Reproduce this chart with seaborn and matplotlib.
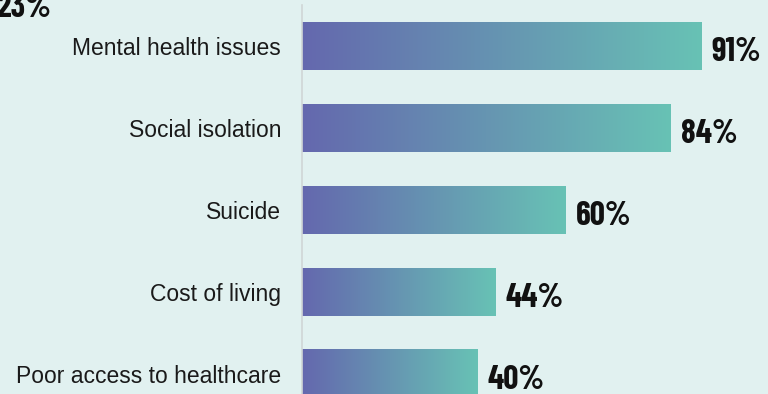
import numpy as np
import pandas as pd

import matplotlib
matplotlib.use("Agg")
import matplotlib.pyplot as plt
from matplotlib.colors import LinearSegmentedColormap
import seaborn as sns


categories = [
    "Mental health issues",
    "Social isolation",
    "Suicide",
    "Cost of living",
    "Poor access to healthcare",
]
values = [91, 84, 60, 44, 40]
value_labels = ["91%", "84%", "60%", "44%", "40%"]
stray_label = "23%"

bg = "#e1f1f0"
purple = "#6468ae"
teal = "#68c2b5"

df = pd.DataFrame({"issue": categories, "pct": values})

sns.set_theme(style="white")
plt.rcParams["font.family"] = ["Liberation Sans", "DejaVu Sans"]

fig = plt.figure(figsize=(7.68, 3.94), dpi=100)
fig.patch.set_facecolor(bg)

ax = fig.add_axes([302 / 768, 0, 466 / 768, 1])
ax.set_facecolor(bg)

bar_height = 48 / 82

sns.barplot(
    data=df,
    x="pct",
    y="issue",
    orient="h",
    width=bar_height,
    color=purple,
    ax=ax,
)

# gradient fill for every bar, purple -> teal
cmap = LinearSegmentedColormap.from_list("grad", [purple, teal])
gradient = np.linspace(0, 1, 256).reshape(1, -1)

for patch in ax.patches:
    x0 = patch.get_x()
    y0 = patch.get_y()
    w = patch.get_width()
    h = patch.get_height()
    patch.set_alpha(0)
    ax.imshow(
        gradient,
        cmap=cmap,
        aspect="auto",
        extent=[x0, x0 + w, y0 + h, y0],
        zorder=2,
        interpolation="bicubic",
    )

px_per_pct = 4.39
ax.set_xlim(0, 466 / px_per_pct)
ax.set_ylim((394 - 46) / 82, -46 / 82)

num_font = ["Barlow Condensed", "DejaVu Sans"]

for i, (v, lab) in enumerate(zip(values, value_labels)):
    ax.text(
        v + 10 / px_per_pct,
        i + 0.07,
        lab,
        va="center",
        ha="left",
        fontsize=24,
        fontweight="bold",
        family=num_font,
        color="#111111",
    )

ax.set_xlabel("")
ax.set_ylabel("")
ax.set_xticks([])
ax.tick_params(axis="y", length=0, pad=15, labelsize=16.5, labelcolor="#1a1a1a")

for s in ["top", "right", "bottom"]:
    ax.spines[s].set_visible(False)
ax.spines["left"].set_color("#cfd6d6")
ax.spines["left"].set_linewidth(1.2)
ax.spines["left"].set_bounds(-0.5, 4.3)

# leftover label from the bar above the crop
fig.text(
    51 / 768,
    1 - 17 / 394,
    stray_label,
    ha="right",
    va="baseline",
    fontsize=24,
    fontweight="bold",
    family=num_font,
    color="#111111",
)

fig.savefig("out.png", dpi=100, facecolor=bg)
